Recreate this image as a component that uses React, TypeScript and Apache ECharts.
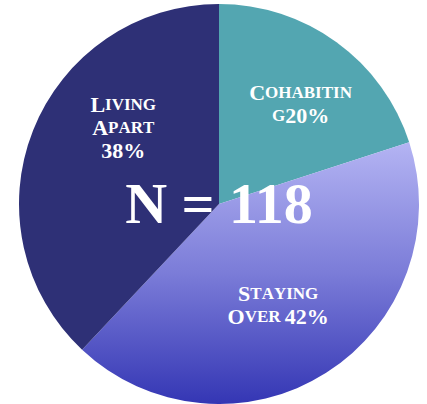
import React, { useEffect, useRef } from "react";
import * as echarts from "echarts";

const categories = ["Cohabiting", "Staying Over", "Living Apart"];
const values = [20, 42, 38];
const labelLines = [["Cohabitin", "g"], ["Staying", "Over "], ["Living", "Apart", ""]];
const totalN = 118;

const LABEL_SHIFT: [number, number][] = [[21, -17], [4, 14], [0, -39]];

function smallCaps(s: string): string {
  let out = "";
  for (const ch of s) {
    if (ch === " ") out += "{s| }";
    else if (/[a-z]/.test(ch)) out += `{s|${ch.toUpperCase()}}`;
    else if (/[A-Z]/.test(ch)) out += `{c|${ch}}`;
    else out += `{n|${ch}}`;
  }
  return out;
}

export default function App() {
  const ref = useRef<HTMLDivElement>(null);
  useEffect(() => {
    if (!ref.current) return;
    const chart = echarts.init(ref.current, undefined, { renderer: "svg" });
    const colors: any[] = [
      "#53a6b1",
      new echarts.graphic.LinearGradient(0, 0, 0, 1, [
        { offset: 0, color: "#b4b4f3" },
        { offset: 0.5, color: "#7b7cd8" },
        { offset: 1, color: "#3436b4" },
      ]),
      "#2e3076",
    ];
    const data = categories.map((name, i) => ({
      name,
      value: values[i],
      itemStyle: { color: colors[i] },
    }));
    chart.setOption({
      animation: false,
      series: [
        {
          type: "pie",
          center: [219, 204],
          radius: 200,
          startAngle: 90,
          clockwise: true,
          silent: true,
          emphasis: { disabled: true },
          itemStyle: { borderWidth: 0 },
          data,
          label: {
            show: true,
            position: "inside",
            align: "center",
            fontFamily: "Liberation Serif",
            fontWeight: "bold",
            color: "#ffffff",
            formatter: (p: any) => {
              const lines = labelLines[p.dataIndex].slice();
              lines[lines.length - 1] = lines[lines.length - 1] + p.value + "%";
              return lines.map(smallCaps).join("\n");
            },
            rich: {
              c: { fontSize: 22, fontFamily: "Liberation Serif", fontWeight: "bold", color: "#fff", lineHeight: 23 },
              s: { fontSize: 17, fontFamily: "Liberation Serif", fontWeight: "bold", color: "#fff", lineHeight: 23 },
              n: { fontSize: 22, fontFamily: "Liberation Serif", fontWeight: "bold", color: "#fff", lineHeight: 23 },
            },
          },
          labelLine: { show: false },
          labelLayout: (p: any) => ({ dx: LABEL_SHIFT[p.dataIndex][0], dy: LABEL_SHIFT[p.dataIndex][1] }),
        },
      ],
      graphic: [
        {
          type: "text",
          x: 219,
          y: 203,
          z: 100,
          zlevel: 0,
          silent: true,
          style: {
            text: `N = ${totalN}`,
            fontFamily: "Liberation Serif",
            fontWeight: "bold",
            fontSize: 58,
            fill: "#ffffff",
            textAlign: "center",
            textVerticalAlign: "middle",
          },
        },
      ],
    });
    return () => chart.dispose();
  }, []);
  return (
    <div
      ref={ref}
      style={{ position: "fixed", left: 0, top: 0, width: 427, height: 404, background: "#ffffff" }}
    />
  );
}
